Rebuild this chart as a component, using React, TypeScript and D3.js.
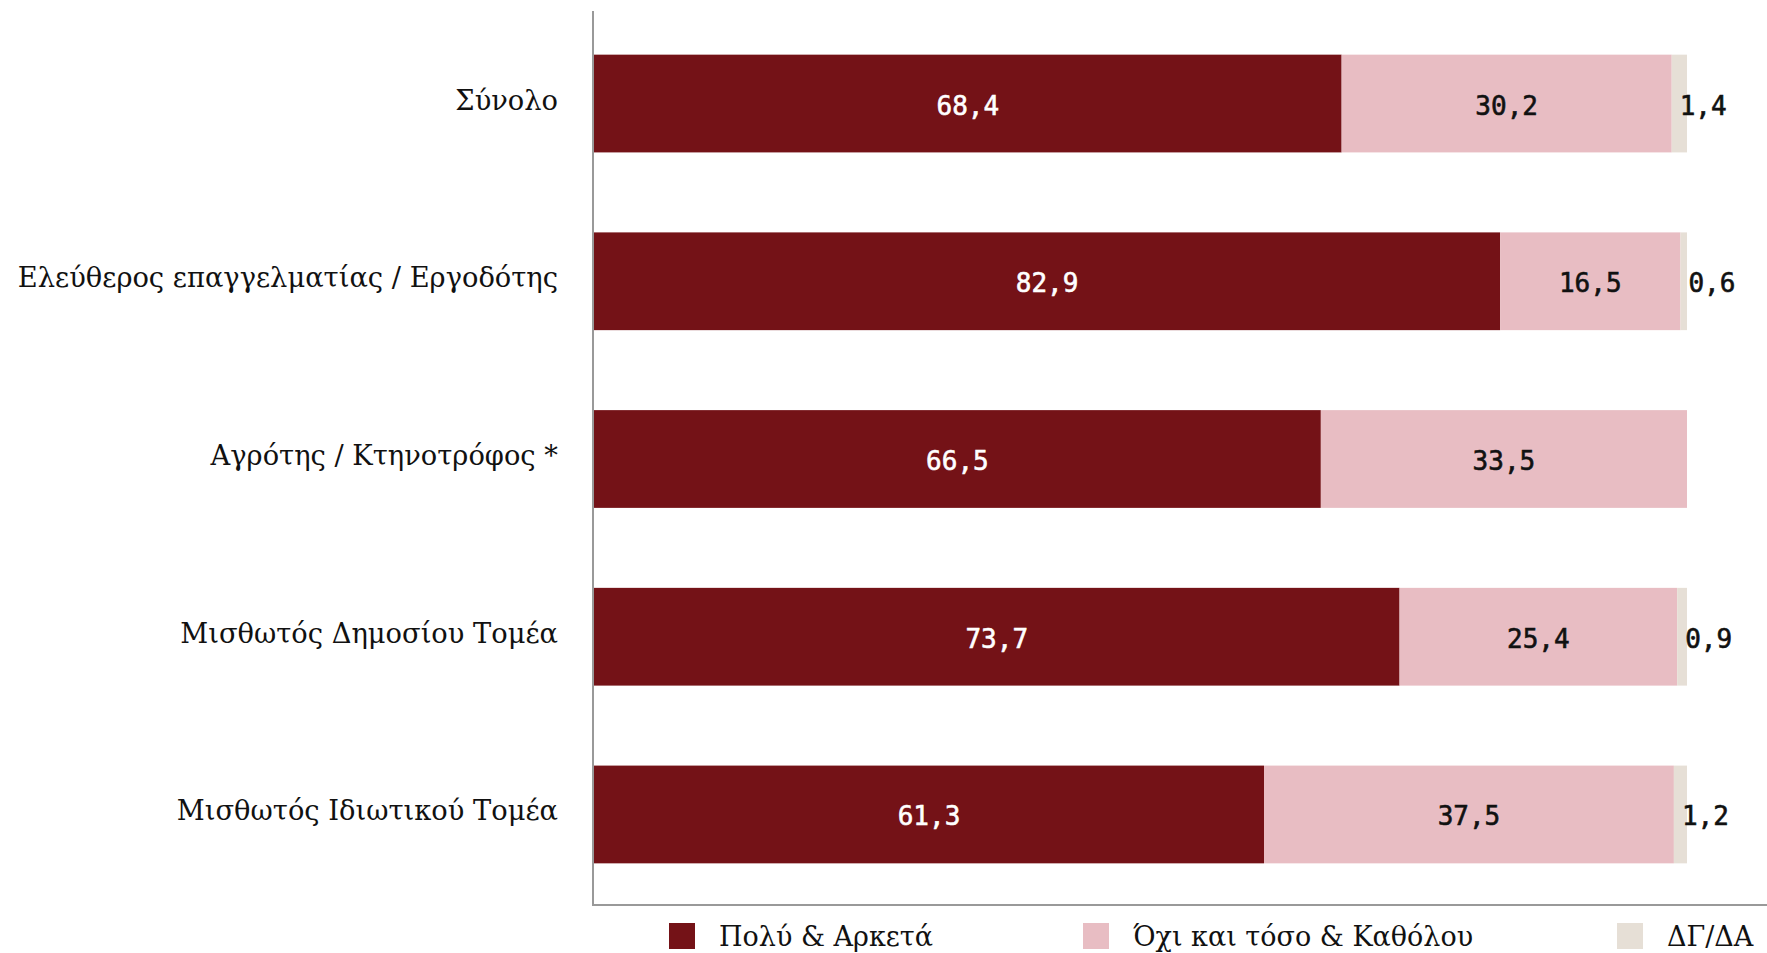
import { useEffect } from 'react'
import * as d3 from 'd3'

const categories = [
  'Σύνολο',
  'Ελεύθερος επαγγελματίας / Εργοδότης',
  'Αγρότης / Κτηνοτρόφος *',
  'Μισθωτός Δημοσίου Τομέα',
  'Μισθωτός Ιδιωτικού Τομέα',
]
const seriesNames = ['Πολύ & Αρκετά', 'Όχι και τόσο & Καθόλου', 'ΔΓ/ΔΑ']
const polyArketa = [68.4, 82.9, 66.5, 73.7, 61.3]
const oxiKatholou = [30.2, 16.5, 33.5, 25.4, 37.5]
const dgda = [1.4, 0.6, 0, 0.9, 1.2]

const COLORS = ['#741217', '#e8bdc3', '#e6dfd6']
const LABEL_COLORS = ['#ffffff', '#111111', '#111111']

const W = 1767
const H = 953
const X0 = 594
const X1 = 1687
const Y0 = 12
const Y1 = 906
const AXIS_X = 593
const LEGEND_X = [669, 1083, 1617]
const LEGEND_Y = 923

const SERIF = '"DejaVu Serif", serif'
const MONO = '"DejaVu Sans Mono", monospace'

const fmt = (v: number) => v.toFixed(1).replace('.', ',')

export default function App() {
  useEffect(() => {
    document.body.style.margin = '0'
    document.body.style.overflow = 'hidden'
  }, [])

  const rows = categories.map((c, i) => ({
    cat: c,
    a: polyArketa[i],
    b: oxiKatholou[i],
    c: dgda[i],
  }))
  const stack = d3.stack<(typeof rows)[number]>().keys(['a', 'b', 'c'])
  const layers = stack(rows)

  const x = d3.scaleLinear().domain([0, 100]).range([X0, X1])
  const y = d3
    .scaleBand<string>()
    .domain(categories)
    .range([Y0, Y1])
    .paddingInner(0.45)
    .paddingOuter(0.24)
  const bh = y.bandwidth()

  return (
    <svg width={W} height={H} style={{ display: 'block', background: '#fff' }}>
      {/* category labels */}
      {categories.map((c) => (
        <text
          key={c}
          x={AXIS_X - 35}
          y={(y(c) ?? 0) + bh / 2 + 6}
          textAnchor="end"
          fontFamily={SERIF}
          fontSize={27.3}
          fill="#111"
        >
          {c}
        </text>
      ))}

      {/* stacked bars, small DG/DA values sit just past the segment start */}
      {layers.map((layer, li) => (
        <g key={layer.key}>
          {layer.map((d, i) => {
            const v = d[1] - d[0]
            if (v <= 0) return null
            const top = y(categories[i]) ?? 0
            const xs = x(d[0])
            const w = x(d[1]) - xs
            const small = li === 2
            return (
              <g key={i}>
                <rect x={xs} y={top} width={w} height={bh} fill={COLORS[li]} />
                <text
                  x={small ? xs + 8 : xs + w / 2}
                  y={top + bh / 2 + 11}
                  textAnchor={small ? 'start' : 'middle'}
                  fontFamily={MONO}
                  fontSize={26}
                  fill={LABEL_COLORS[li]}
                  stroke={LABEL_COLORS[li]}
                  strokeWidth={0.6}
                >
                  {fmt(v)}
                </text>
              </g>
            )
          })}
        </g>
      ))}

      {/* axes */}
      <line x1={AXIS_X} y1={Y0 - 1} x2={AXIS_X} y2={Y1 - 1} stroke="#999" strokeWidth={2} />
      <line x1={AXIS_X - 1} y1={Y1 - 1} x2={W} y2={Y1 - 1} stroke="#999" strokeWidth={2} />

      {/* legend */}
      {seriesNames.map((s, i) => (
        <g key={s}>
          <rect x={LEGEND_X[i]} y={LEGEND_Y} width={26} height={26} fill={COLORS[i]} />
          <text
            x={LEGEND_X[i] + 50}
            y={LEGEND_Y + 23}
            fontFamily={SERIF}
            fontSize={27}
            fill="#111"
          >
            {s}
          </text>
        </g>
      ))}
    </svg>
  )
}
